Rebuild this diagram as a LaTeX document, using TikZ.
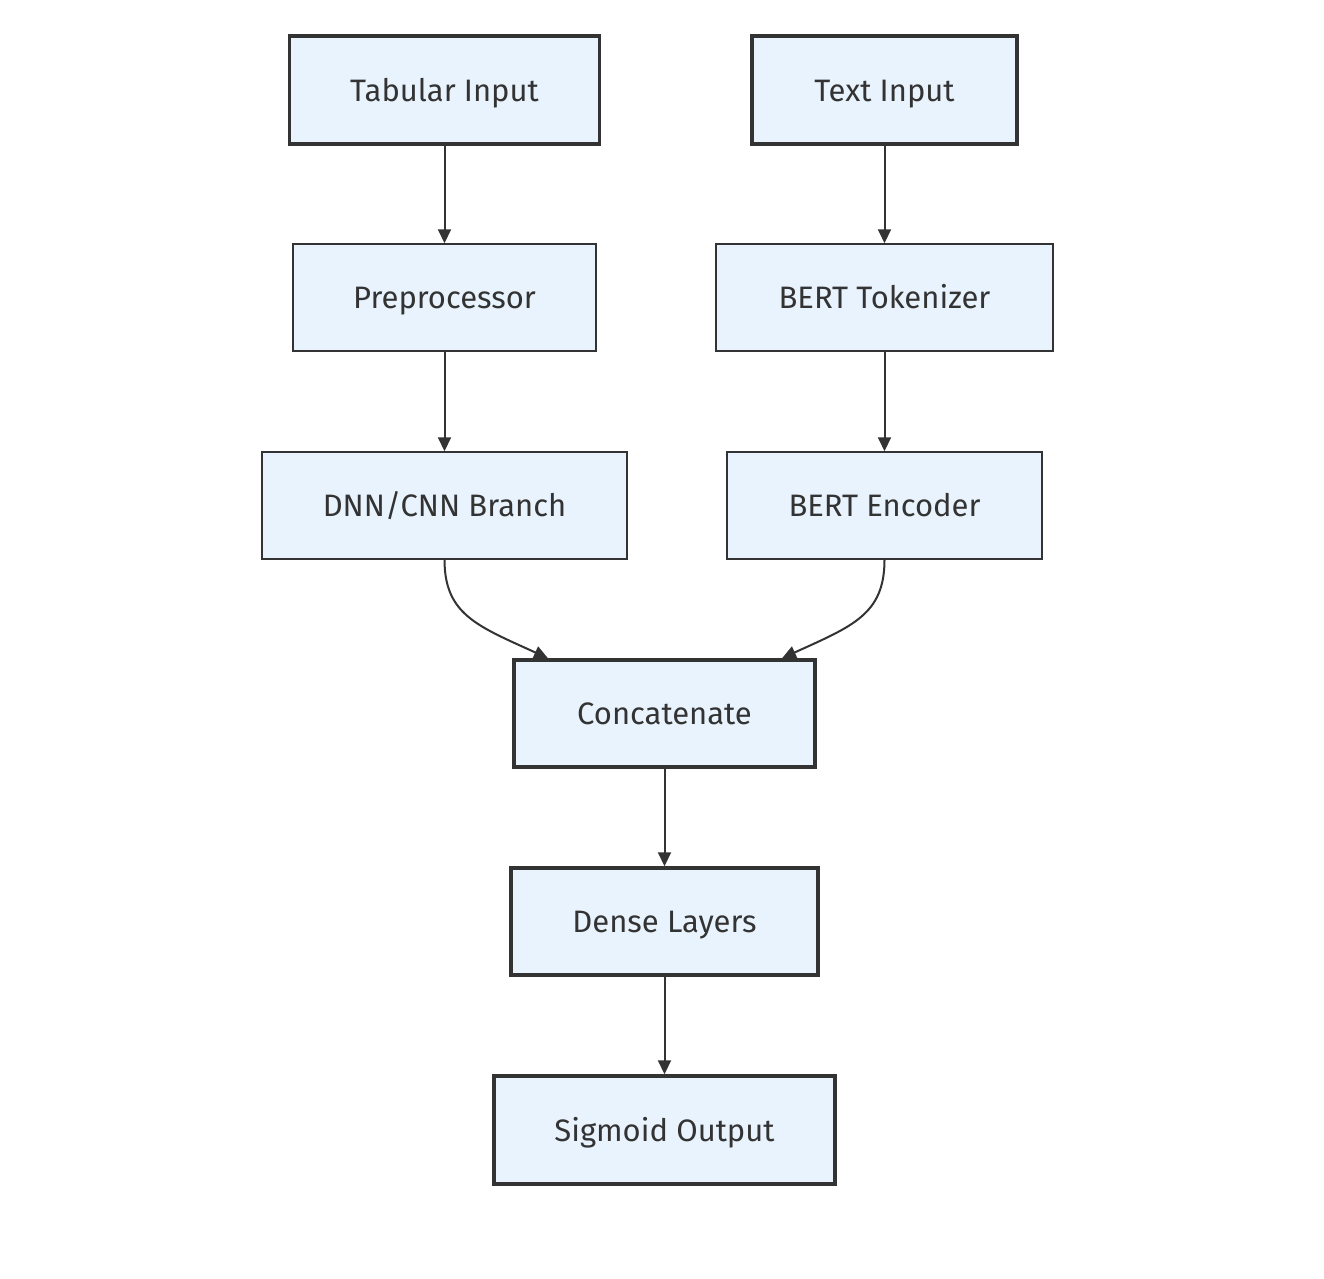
\documentclass[tikz,border=0pt]{standalone}
\usepackage{fontspec}
\setmainfont{Fira Sans}
\usetikzlibrary{arrows.meta}
\definecolor{boxfill}{RGB}{232,243,253}
\definecolor{boxline}{RGB}{51,51,51}
\begin{document}
\begin{tikzpicture}[x=1pt,y=-1pt,
  box/.style={draw=boxline,fill=boxfill,rectangle,inner sep=0pt,text=boxline,
    font=\fontsize{31}{37}\selectfont,line width=1.5pt,text height=22pt,text depth=0pt},
  thickbox/.style={box,line width=3.5pt},
  conn/.style={draw=boxline,line width=2pt,-{Triangle[width=13pt,length=14pt]}}]
\useasboundingbox[fill=white] (0,0) rectangle (1324,1278);
\node[thickbox,minimum width=310pt,minimum height=108pt] (tab) at (444.5,90) {Tabular Input};
\node[thickbox,minimum width=265pt,minimum height=108pt] (txt) at (884.5,90) {Text Input};
\node[box,minimum width=303pt,minimum height=107pt] (pre) at (444.5,297.5) {Preprocessor};
\node[box,minimum width=337pt,minimum height=107pt] (tok) at (884.5,297.5) {BERT Tokenizer};
\node[box,minimum width=365pt,minimum height=107pt] (dnn) at (444.5,505.5) {DNN/CNN Branch};
\node[box,minimum width=315pt,minimum height=107pt] (enc) at (884.5,505.5) {BERT Encoder};
\node[thickbox,minimum width=301pt,minimum height=107pt] (cat) at (664.5,713.5) {Concatenate};
\node[thickbox,minimum width=307pt,minimum height=107pt] (den) at (664.5,921.5) {Dense Layers};
\node[thickbox,minimum width=341pt,minimum height=108pt] (sig) at (664.5,1130) {Sigmoid Output};
\coordinate (catL) at ([xshift=-116.5pt]cat.north);
\coordinate (catR) at ([xshift=117.5pt]cat.north);
\draw[conn] (tab.south) -- (pre.north);
\draw[conn] (txt.south) -- (tok.north);
\draw[conn] (pre.south) -- (dnn.north);
\draw[conn] (tok.south) -- (enc.north);
\draw[conn] (dnn.south) .. controls +(0,55) and +(-70,-32) .. (catL);
\draw[conn] (enc.south) .. controls +(0,55) and +(70,-32) .. (catR);
\draw[conn] (cat.south) -- (den.north);
\draw[conn] (den.south) -- (sig.north);
\end{tikzpicture}
\end{document}
